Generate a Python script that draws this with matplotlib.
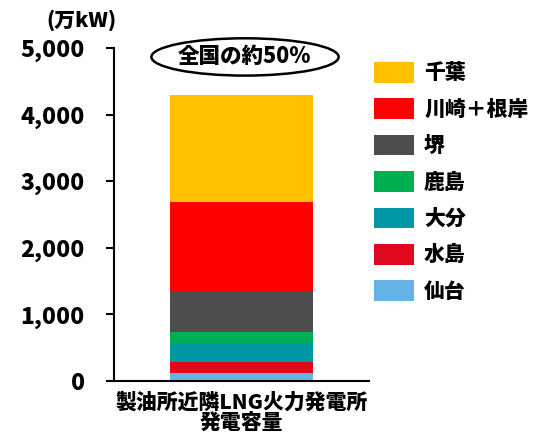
import matplotlib
matplotlib.use('Agg')
import matplotlib.pyplot as plt
from matplotlib.patches import Ellipse, Patch

plt.rcParams['font.family'] = ['Noto Sans CJK JP', 'DejaVu Sans']
plt.rcParams['font.weight'] = 'bold'

# データ（下から積み上げ）
sites = ['仙台', '水島', '大分', '鹿島', '堺', '川崎＋根岸', '千葉']
capacity = [120, 170, 280, 170, 615, 1325, 1610]
colors = ['#63B4E4', '#E0081C', '#0097A7', '#00B050', '#4D4D4D', '#FF0000', '#FFC000']
category = ['製油所近隣LNG火力発電所\n発電容量']

W = 'heavy'

fig = plt.figure(figsize=(5.33, 4.32), dpi=100)
ax = fig.add_axes([0.214, 0.118, 0.478, 0.771])

bottom = 0
for name, val, c in zip(sites, capacity, colors):
    ax.bar(category, [val], bottom=bottom, width=0.56, color=c, label=name)
    bottom += val

ax.set_xlim(-0.5, 0.5)
ax.set_ylim(0, 5000)
ax.set_yticks(range(0, 5001, 1000))
ax.set_yticklabels([f'{v:,}' for v in range(0, 5001, 1000)], fontsize=16.5, fontweight=W)
ax.tick_params(axis='y', length=6, width=1.5, pad=15)
ax.tick_params(axis='x', length=0, labelsize=15, pad=8)
for lbl in ax.get_xticklabels():
    lbl.set_fontweight(W)
    lbl.set_linespacing(1.0)
for s in ['top', 'right']:
    ax.spines[s].set_visible(False)
ax.spines['left'].set_linewidth(1.5)
ax.spines['bottom'].set_linewidth(1.5)

# 単位
fig.text(0.152, 0.953, '(万kW)', ha='center', va='center', fontsize=15, fontweight=W)

# 楕円の注記
ell = Ellipse((0.514, 0.973), 0.735, 0.112, transform=ax.transAxes,
              facecolor='white', edgecolor='black', linewidth=1.8, clip_on=False)
ax.add_patch(ell)
ax.text(0.514, 0.973, '全国の約50%', transform=ax.transAxes, ha='center', va='center',
        fontsize=15.5, fontweight=W)

# 凡例（上から千葉）
handles = [Patch(facecolor=c, edgecolor='none', label=n) for n, c in zip(sites, colors)][::-1]
fig.legend(handles=handles, loc='upper left', bbox_to_anchor=(0.666, 0.9),
           frameon=False, handlelength=1.92, handleheight=1.15,
           labelspacing=0.72, handletextpad=0.5, prop={'weight': W, 'size': 15})

plt.savefig('out.png', dpi=100)
